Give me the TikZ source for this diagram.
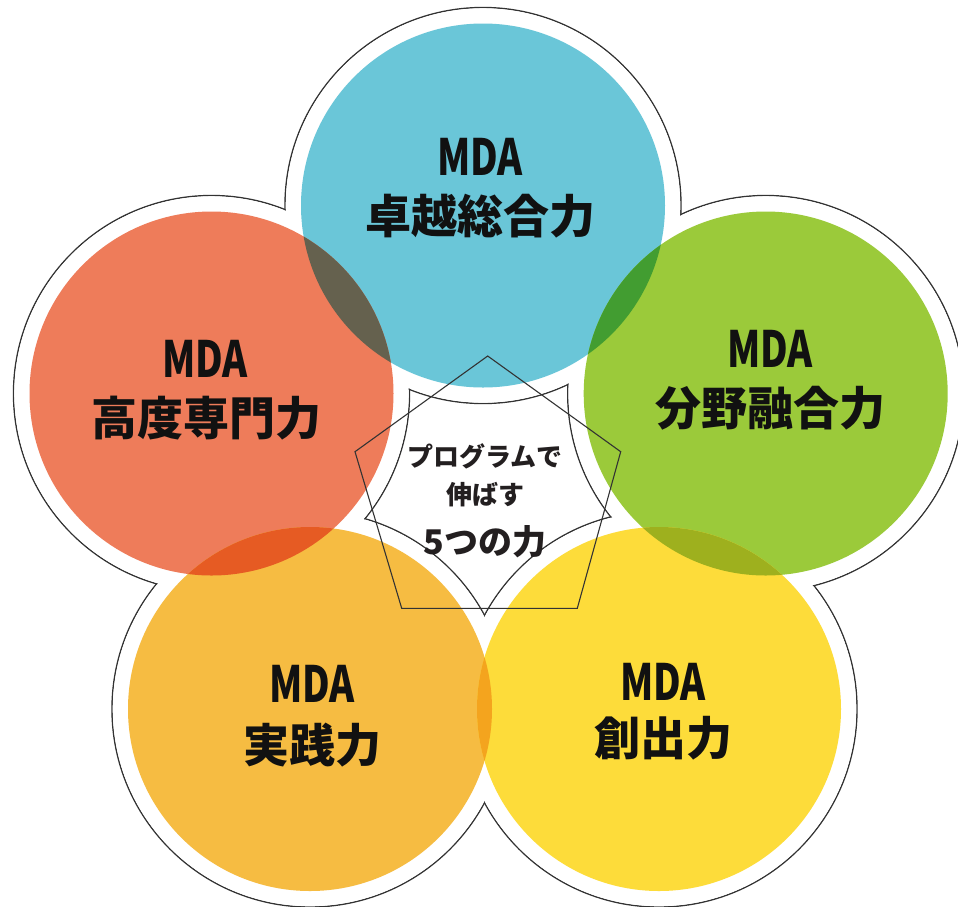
\documentclass[tikz,border=0pt]{standalone}
\usepackage{fontspec}
\setmainfont{Noto Sans CJK JP}
\usepackage{graphicx}
\definecolor{cyanc}{HTML}{6AC6D8}
\definecolor{redc}{HTML}{EE7C5A}
\definecolor{greenc}{HTML}{9BCA3A}
\definecolor{orangec}{HTML}{F6BC42}
\definecolor{yellowc}{HTML}{FDDC3A}
\definecolor{ovTL}{RGB}{101,97,78}
\definecolor{ovTR}{RGB}{66,157,49}
\definecolor{ovL}{RGB}{230,91,35}
\definecolor{ovB}{RGB}{244,164,30}
\definecolor{ovR}{RGB}{158,176,30}
\definecolor{linec}{HTML}{333333}
\definecolor{textc}{HTML}{111111}
\definecolor{ctextc}{HTML}{231F20}
\tikzset{
  petal/.style={circle, inner sep=0pt, minimum size=364pt},
  outl/.style={draw=linec, line width=1.4pt},
  mda/.style={text=textc, font=\bfseries\fontsize{50}{52}\selectfont, inner sep=0pt},
  jp/.style={text=textc, font=\bfseries\fontsize{46}{48}\selectfont, inner sep=0pt},
  ctr/.style={text=ctextc, font=\bfseries\fontsize{26}{28}\selectfont, inner sep=0pt},
  ctrbig/.style={text=ctextc, font=\bfseries\fontsize{34}{36}\selectfont, inner sep=0pt},
  pent/.style={draw=linec, line width=1.1pt}
}
\begin{document}
\begin{tikzpicture}[x=1pt,y=-1pt]
\useasboundingbox (0,0) rectangle (958,906);
% centres
\coordinate (cT) at (483,205.5);
\coordinate (cL) at (211.5,393.5);
\coordinate (cR) at (765.7,393.5);
\coordinate (cBL) at (310,709);
\coordinate (cBR) at (659,709);
% outer flower outline
\foreach \cc in {cT,cL,cR,cBL,cBR}{\draw[outl] (\cc) circle (198pt);}
\foreach \cc in {cT,cL,cR,cBL,cBR}{\fill[white] (\cc) circle (197.2pt);}
% coloured circles
\node[petal, fill=cyanc] (pT) at (cT) {};
\node[petal, fill=redc] (pL) at (cL) {};
\node[petal, fill=greenc] (pR) at (cR) {};
\node[petal, fill=orangec] (pBL) at (cBL) {};
\node[petal, fill=yellowc] (pBR) at (cBR) {};
% overlaps
\begin{scope}\clip (cT) circle (182pt); \fill[ovTL] (cL) circle (182pt);\end{scope}
\begin{scope}\clip (cT) circle (182pt); \fill[ovTR] (cR) circle (182pt);\end{scope}
\begin{scope}\clip (cL) circle (182pt); \fill[ovL] (cBL) circle (182pt);\end{scope}
\begin{scope}\clip (cBL) circle (182pt); \fill[ovB] (cBR) circle (182pt);\end{scope}
\begin{scope}\clip (cR) circle (182pt); \fill[ovR] (cBR) circle (182pt);\end{scope}
% pentagon
\coordinate (pentA) at (487.7,356);
\coordinate (pentB) at (620.7,451.7);
\coordinate (pentC) at (577.3,608.3);
\coordinate (pentD) at (401.7,608.3);
\coordinate (pentE) at (355,451.7);
\draw[pent] (pentA) -- (pentB) -- (pentC) -- (pentD) -- (pentE) -- cycle;
% labels
\node[mda] (mT) at (480,157) {\scalebox{0.76}[1]{MDA}};
\node[jp] (jT) at (480.5,216) {卓越総合力};
\node[mda] (mL) at (205,359) {\scalebox{0.76}[1]{MDA}};
\node[jp] (jL) at (206.5,418) {高度専門力};
\node[mda] (mR) at (770,349) {\scalebox{0.76}[1]{MDA}};
\node[jp] (jR) at (770,408) {分野融合力};
\node[mda] (mBL) at (312,684) {\scalebox{0.76}[1]{MDA}};
\node[jp] (jBL) at (312,745) {実践力};
\node[mda] (mBR) at (663,681.5) {\scalebox{0.76}[1]{MDA}};
\node[jp] (jBR) at (663,738) {創出力};
% centre text
\node[ctr] (t1) at (485,456) {プログラムで};
\node[ctr] (t2) at (485,495) {伸ばす};
\node[ctrbig] (t3) at (485,542) {5つの力};
\end{tikzpicture}
\end{document}
